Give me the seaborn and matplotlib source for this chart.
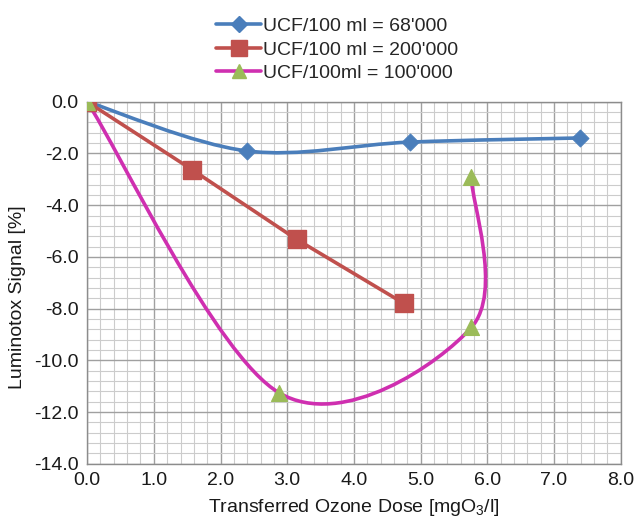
import numpy as np
import pandas as pd
import seaborn as sns
import matplotlib
matplotlib.use("Agg")
from matplotlib import pyplot as plt
from matplotlib.path import Path
from matplotlib.patches import PathPatch
from matplotlib.lines import Line2D
from matplotlib.ticker import MultipleLocator, FuncFormatter

# values
dose_68k = [0.0, 2.39, 4.84, 7.39]
signal_68k = [0.0, -1.90, -1.56, -1.40]
dose_200k = [0.0, 1.57, 3.14, 4.75]
signal_200k = [0.0, -2.62, -5.32, -7.80]
dose_100k = [0.0, 2.88, 5.76, 5.76]
signal_100k = [0.0, -11.26, -8.73, -2.92]
labels = ["UCF/100 ml = 68'000", "UCF/100 ml = 200'000", "UCF/100ml = 100'000"]

blue = "#4a7ebb"
red = "#c0504d"
green = "#9bbb59"
magenta = "#cf2fb0"

sns.set_style("white")
plt.rcParams["font.family"] = ["Liberation Sans", "DejaVu Sans"]
plt.rcParams["mathtext.default"] = "regular"


def smooth_path(xs, ys):
    # excel-style smoothed line: cubic bezier through the points
    pts = np.column_stack([xs, ys])
    n = len(pts)
    verts = [pts[0]]
    codes = [Path.MOVETO]
    for i in range(n - 1):
        p_prev = pts[i - 1] if i > 0 else pts[i]
        p_next2 = pts[i + 2] if i + 2 < n else pts[i + 1]
        c1 = pts[i] + (pts[i + 1] - p_prev) / 6.0
        c2 = pts[i + 1] - (p_next2 - pts[i]) / 6.0
        verts += [c1, c2, pts[i + 1]]
        codes += [Path.CURVE4] * 3
    return Path(verts, codes)


fig = plt.figure(figsize=(6.36, 5.30), dpi=100)
ax = fig.add_axes([0.137, 0.125, 0.839, 0.683])

# grid
ax.xaxis.set_major_locator(MultipleLocator(1.0))
ax.xaxis.set_minor_locator(MultipleLocator(0.2))
ax.yaxis.set_major_locator(MultipleLocator(2.0))
ax.yaxis.set_minor_locator(MultipleLocator(0.4))
ax.grid(which="major", color="#a0a0a0", lw=1.0)
ax.grid(which="minor", color="#cccccc", lw=0.8)
ax.set_axisbelow(True)

# lines
for xs, ys, c in [(dose_68k, signal_68k, blue), (dose_100k, signal_100k, magenta)]:
    ax.add_patch(PathPatch(smooth_path(xs, ys), facecolor="none", edgecolor=c, lw=2.6, zorder=3))

df_red = pd.DataFrame({"dose": dose_200k, "signal": signal_200k})
sns.lineplot(data=df_red, x="dose", y="signal", ax=ax, color=red, lw=2.6, sort=False, zorder=3)

# markers
sns.scatterplot(x=dose_68k, y=signal_68k, ax=ax, marker="D", s=75, color=blue, edgecolor=blue, zorder=4)
sns.scatterplot(x=dose_200k, y=signal_200k, ax=ax, marker="s", s=150, color=red, edgecolor=red, zorder=4)
sns.scatterplot(x=dose_100k, y=signal_100k, ax=ax, marker="^", s=130, color=green, edgecolor=green, zorder=5)

ax.set_xlim(0, 8)
ax.set_ylim(-14, 0)
ax.xaxis.set_major_formatter(FuncFormatter(lambda v, p: f"{v:.1f}"))
ax.yaxis.set_major_formatter(FuncFormatter(lambda v, p: "0.0" if abs(v) < 1e-9 else f"{v:.1f}"))
ax.tick_params(axis="both", which="both", length=0, labelsize=14, colors="#1a1a1a", pad=6)

for side in ["left", "bottom", "right", "top"]:
    ax.spines[side].set_color("#8c8c8c")
    ax.spines[side].set_linewidth(1.0)

ax.set_xlabel("Transferred Ozone Dose [mgO$_3$/l]", fontsize=14, color="#1a1a1a", labelpad=6)
ax.set_ylabel("Luminotox Signal [%]", fontsize=14, color="#1a1a1a")
ax.yaxis.set_label_coords(-0.114, 0.46)

handles = [
    Line2D([], [], color=blue, lw=2.6, marker="D", ms=8),
    Line2D([], [], color=red, lw=2.6, marker="s", ms=11),
    Line2D([], [], color=magenta, lw=2.6, marker="^", ms=10, mfc=green, mec=green),
]
fig.legend(handles, labels, loc="upper center", bbox_to_anchor=(0.53, 1.0), frameon=False,
           handlelength=2.3, handletextpad=0.1, labelspacing=0.3,
           prop={"size": 14})

fig.savefig("out.png", dpi=100)
